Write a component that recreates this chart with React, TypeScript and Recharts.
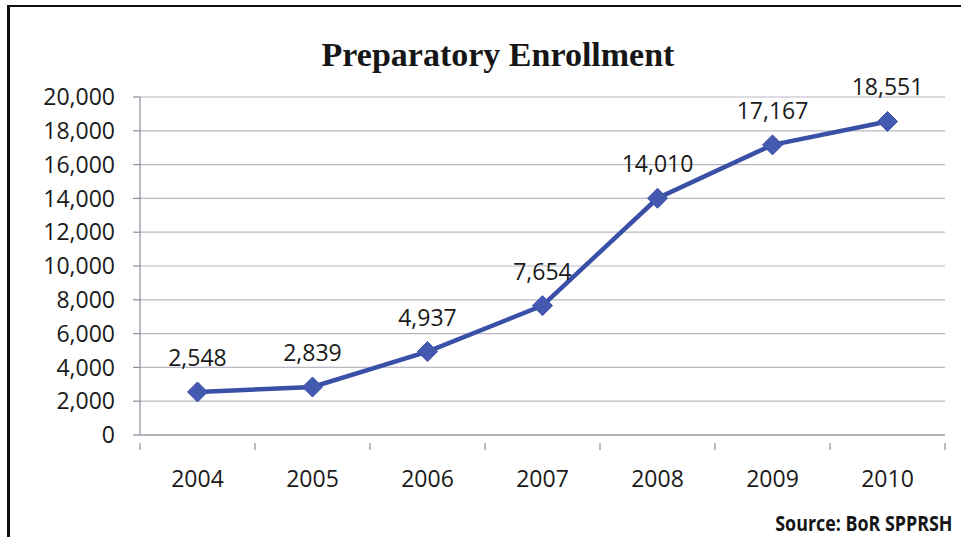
import React from 'react';
import {
    LineChart,
    Line,
    XAxis,
    YAxis,
    CartesianGrid,
    LabelList,
} from 'recharts';

const years = ['2004', '2005', '2006', '2007', '2008', '2009', '2010'];
const enrollment = [2548, 2839, 4937, 7654, 14010, 17167, 18551];
const yTicks = [0, 2000, 4000, 6000, 8000, 10000, 12000, 14000, 16000, 18000, 20000];

const data = years.map((year, i) => ({ year, enrollment: enrollment[i] }));

const FONT = '"Open Sans", "Noto Sans", sans-serif';
const LINE_COLOR = '#3A50A6';
const AXIS_COLOR = '#8E8E9E';
const GRID_COLOR = '#B8B8C4';

const fmt = (v: number) => v.toLocaleString('en-US');

// Diamond marker for each data point
const Diamond = ({ cx, cy }: any) => {
    if (cx == null || cy == null) return null;
    const r = 10;
    return (
        <path
            d={`M${cx},${cy - r} L${cx + r},${cy} L${cx},${cy + r} L${cx - r},${cy} Z`}
            fill="#4459B0"
            stroke={LINE_COLOR}
            strokeWidth={1}
        />
    );
};

// Year label centred in its band, with tick marks on the band edges
const YearTick = ({ x, y, payload, index, width, visibleTicksCount }: any) => {
    const count = visibleTicksCount || years.length;
    const half = payload?.offset || (width ? width / count / 2 : 0);
    const isLast = index === count - 1;
    return (
        <g>
            <line x1={x - half} x2={x - half} y1={y} y2={y + 7} stroke={AXIS_COLOR} strokeWidth={1.2} />
            {isLast && (
                <line x1={x + half} x2={x + half} y1={y} y2={y + 7} stroke={AXIS_COLOR} strokeWidth={1.2} />
            )}
            <text
                x={x}
                y={y + 44}
                textAnchor="middle"
                fill="#1a1a1a"
                fontFamily={FONT}
                fontSize={23}
            >
                {payload.value}
            </text>
        </g>
    );
};

const App: React.FC = () => {
    return (
        <div
            style={{
                position: 'absolute',
                left: 0,
                top: 0,
                width: 961,
                height: 537,
                background: '#ffffff',
                overflow: 'hidden',
            }}
        >
            {/* frame around the chart */}
            <div
                style={{
                    position: 'absolute',
                    left: 7,
                    top: 5,
                    width: 1000,
                    height: 600,
                    borderLeft: '3px solid #111',
                    borderTop: '2px solid #111',
                }}
            />
            <div
                style={{
                    position: 'absolute',
                    left: 0,
                    top: 36,
                    width: 996,
                    textAlign: 'center',
                    fontFamily: '"Liberation Serif", "DejaVu Serif", serif',
                    fontWeight: 'bold',
                    fontSize: 34,
                    color: '#161616',
                }}
            >
                Preparatory Enrollment
            </div>
            <LineChart
                width={961}
                height={537}
                data={data}
                margin={{ top: 97, right: 16, bottom: 0, left: 0 }}
                style={{ position: 'absolute', left: 0, top: 0 }}
            >
                <CartesianGrid vertical={false} stroke={GRID_COLOR} strokeWidth={1.2} />
                <XAxis
                    dataKey="year"
                    scale="band"
                    tickLine={false}
                    axisLine={{ stroke: AXIS_COLOR, strokeWidth: 1.2 }}
                    tick={<YearTick />}
                    interval={0}
                    height={102}
                />
                <YAxis
                    width={140}
                    domain={[0, 20000]}
                    ticks={yTicks}
                    interval={0}
                    tickFormatter={fmt}
                    tickSize={7}
                    tickMargin={18}
                    tickLine={{ stroke: AXIS_COLOR, strokeWidth: 1.2 }}
                    axisLine={{ stroke: AXIS_COLOR, strokeWidth: 1.2 }}
                    tick={{ fill: '#1a1a1a', fontSize: 23, fontFamily: FONT }}
                />
                <Line
                    type="linear"
                    dataKey="enrollment"
                    stroke={LINE_COLOR}
                    strokeWidth={4.5}
                    dot={<Diamond />}
                    activeDot={false}
                    isAnimationActive={false}
                >
                    <LabelList
                        dataKey="enrollment"
                        position="top"
                        offset={26}
                        formatter={(v: any) => fmt(Number(v))}
                        style={{ fill: '#1a1a1a', fontSize: 23, fontFamily: FONT }}
                    />
                </Line>
            </LineChart>
            <div
                style={{
                    position: 'absolute',
                    right: 9,
                    top: 509,
                    fontFamily: FONT,
                    fontWeight: 'bold',
                    fontSize: 21,
                    color: '#151515',
                    whiteSpace: 'nowrap',
                    transform: 'scaleX(0.85)',
                    transformOrigin: 'right center',
                }}
            >
                Source: BoR SPPRSH
            </div>
        </div>
    );
};

export default App;
